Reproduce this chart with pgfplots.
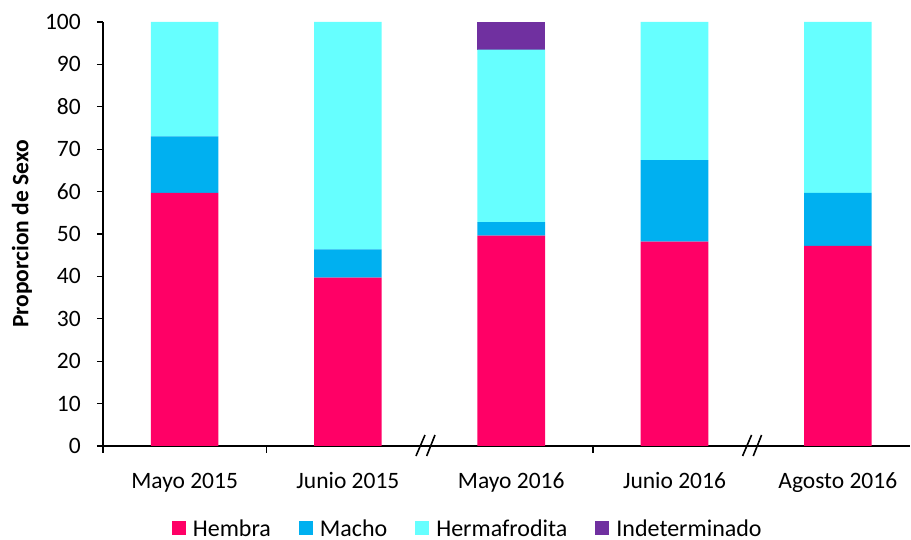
\documentclass[border=0pt]{standalone}
\usepackage{fontspec}
\setmainfont{Carlito}
\usepackage{pgfplots}
\usepackage{pgfplotstable}
\pgfplotsset{compat=1.18}

\definecolor{hembra}{HTML}{FF0066}
\definecolor{macho}{HTML}{00B0F0}
\definecolor{herma}{HTML}{66FFFF}
\definecolor{indet}{HTML}{7030A0}

\pgfplotsset{sqlegend/.style={legend image code/.code={\fill[##1] (0pt,-6pt) rectangle (14pt,8pt);}}}

% Sex proportion (%) per sampling date
\pgfplotstableread{
x hembra macho herma indet
0 59.7 13.3 27.0 0
1 39.7 6.7 53.6 0
2 49.6 3.2 40.7 6.5
3 48.2 19.2 32.6 0
4 47.2 12.5 40.3 0
}\sexdata

\begin{document}
\begin{tikzpicture}[font=\fontsize{23.5}{28}\selectfont]
\path[use as bounding box] (-103pt,-94pt) rectangle (808pt,446pt);
\begin{axis}[
  scale only axis, width=807pt, height=424pt,
  clip=false,
  ybar stacked, bar width=67.6pt,
  xmin=-0.5, xmax=4.442, ymin=0, ymax=100,
  axis x line*=bottom, axis y line*=left,
  axis line style={line width=1.3pt, black},
  xtick={0,...,4},
  xticklabels={Mayo 2015, Junio 2015, Mayo 2016, Junio 2016, Agosto 2016},
  minor xtick={-0.5,0.5,2.5},
  major x tick style={draw=none},
  ytick={0,10,...,100},
  tick align=outside, major tick length=6pt, minor tick length=7pt,
  tick style={line width=1.3pt, black},
  /pgf/number format/assume math mode=true,
  xticklabel style={anchor=base, inner sep=0pt, yshift=-37pt},
  yticklabel style={anchor=east, inner sep=0pt, xshift=-16pt},
  ylabel={\bfseries Proporcion de Sexo},
  ylabel style={at={(axis description cs:-0.1004,0.5)}, anchor=center},
  legend columns=4,
  legend style={draw=none, at={(0.452,-0.196)}, anchor=center,
    font=\fontsize{24}{28}\selectfont,
    nodes={inner xsep=2pt, inner ysep=0.5pt},
    /tikz/every odd column/.append style={column sep=5pt},
    /tikz/every even column/.append style={column sep=26pt}},
]
\addplot[fill=hembra, draw=none, sqlegend] table[x=x, y=hembra] {\sexdata};
\addplot[fill=macho, draw=none, sqlegend] table[x=x, y=macho] {\sexdata};
\addplot[fill=herma, draw=none, sqlegend] table[x=x, y=herma] {\sexdata};
\addplot[fill=indet, draw=none, sqlegend] table[x=x, y=indet] {\sexdata};
\legend{Hembra, Macho, Hermafrodita, Indeterminado}
% axis break marks
\draw[line width=1.6pt] ([xshift=-13.6pt, yshift=-10pt]axis cs:1.5,0) -- ++(9pt,21pt);
\draw[line width=1.6pt] ([xshift=-2.9pt, yshift=-10pt]axis cs:1.5,0) -- ++(8.3pt,21pt);
\draw[line width=1.6pt] ([xshift=-13.6pt, yshift=-10pt]axis cs:3.5,0) -- ++(9pt,21pt);
\draw[line width=1.6pt] ([xshift=-2.9pt, yshift=-10pt]axis cs:3.5,0) -- ++(8.3pt,21pt);
\end{axis}
\end{tikzpicture}
\end{document}
